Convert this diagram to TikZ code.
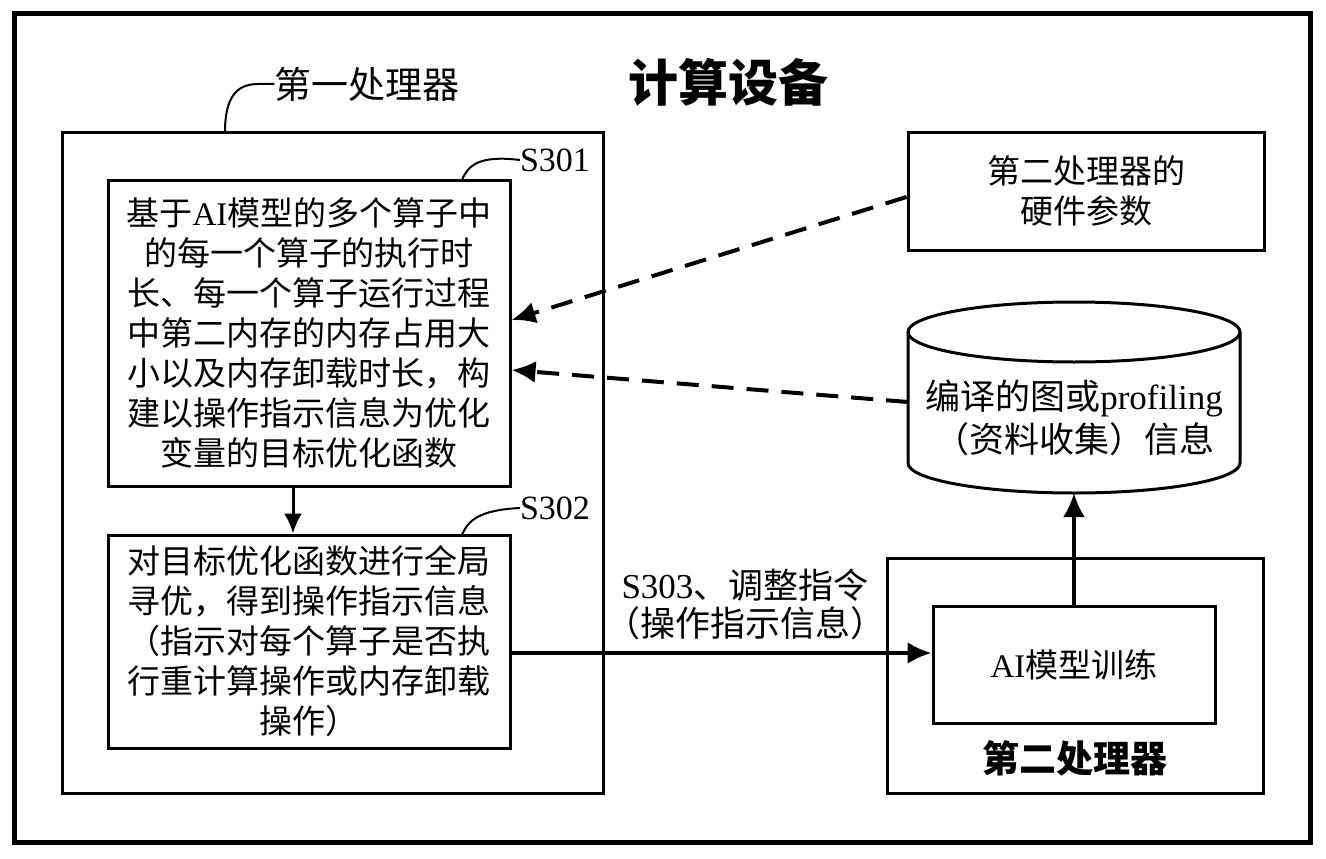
\documentclass[tikz,border=0pt]{standalone}
\usepackage{fontspec}
\setmainfont{Liberation Serif}
\newfontfamily\cjk{Noto Sans CJK SC}
\usetikzlibrary{arrows.meta}

\begin{document}
\begin{tikzpicture}
	[x=1pt,y=-1pt,
	frame/.style={draw,line width=5pt},
	box/.style={draw,line width=3pt,inner sep=0pt,align=center,font=\cjk\fontsize{33}{40}\selectfont},
	tag/.style={inner sep=0pt,font=\fontsize{34}{40}\selectfont},
	hook/.style={line width=2pt},
	arrow/.style={-{Latex[length=24pt,width=22pt]},line width=4pt},
	dasharrow/.style={arrow,dash pattern=on 22pt off 13pt}]

	\useasboundingbox (0,0) rectangle (1326,859);
	\draw[frame] (14,14) rectangle (1310,842);

	\node[font=\cjk\bfseries\fontsize{50}{60}\selectfont] (title) at (728,82) {计算设备};

	% first processor
	\node[box,minimum width=541pt,minimum height=661pt] (proc1) at (332.5,462.5) {};
	\node[inner sep=0pt,font=\cjk\fontsize{37}{40}\selectfont] (proc1lbl) at (367,84) {第一处理器};
	\draw[hook] (225,132) .. controls (225,98) and (236,84) .. (258,84) -- (proc1lbl.west);

	\node[box,minimum width=402pt,minimum height=306pt] (s301) at (309,333)
		{基于\textrm{AI}模型的多个算子中\\的每一个算子的执行时\\长、每一个算子运行过程\\中第二内存的内存占用大\\小以及内存卸载时长，构\\建以操作指示信息为优化\\变量的目标优化函数};
	\node[tag] (s301lbl) at (555,160) {S301};
	\draw[hook] (462,180) .. controls (468,165) and (480,155) .. (s301lbl.west);

	\node[box,minimum width=402pt,minimum height=213pt] (s302) at (309,641.5)
		{对目标优化函数进行全局\\寻优，得到操作指示信息\\（指示对每个算子是否执\\行重计算操作或内存卸载\\操作）};
	\node[tag] (s302lbl) at (555,508) {S302};
	\draw[hook] (462,535) .. controls (468,520) and (480,510) .. (s302lbl.west);

	\coordinate (midx) at (293,0);
	\draw[-{Latex[length=20pt,width=18pt]},line width=3pt] (s301.south -| midx) -- (s302.north -| midx);

	% right side
	\node[box,minimum width=356pt,minimum height=118pt] (hw) at (1086,191) {第二处理器的\\硬件参数};

	\draw[line width=3pt] (908,332) -- (908,463) arc[start angle=180,end angle=360,x radius=166pt,y radius=30pt] -- (1240,332);
	\draw[line width=3pt] (1074,332) ellipse[x radius=166pt,y radius=30pt];
	\node[inner sep=0pt,align=center,font=\cjk\fontsize{35}{43}\selectfont] (db) at (1074,418)
		{编译的图或\textrm{profiling}\\（资料收集）信息};
	\coordinate (dbleft) at (908,402);
	\coordinate (dbbot) at (1074,493);

	\node[box,minimum width=376pt,minimum height=235pt] (proc2) at (1075,675.5) {};
	\node[box,minimum width=282pt,minimum height=117pt] (train) at (1074,664.5) {\textrm{AI}模型训练};
	\node[inner sep=0pt,font=\cjk\bfseries\fontsize{37}{40}\selectfont] (proc2lbl) at (1075,758) {第二处理器};

	\node[inner sep=0pt,align=center,font=\cjk\fontsize{35}{38}\selectfont] (cmd) at (745,604)
		{\textrm{S303}、调整指令\\（操作指示信息）};

	\draw[arrow] (s302.east |- 0,653) -- (train.west |- 0,653);
	\draw[arrow] (train.north) -- (dbbot);
	\draw[dasharrow] ([yshift=-6pt]hw.west) -- (s301.east |- 0,320);
	\draw[dasharrow] (dbleft) -- (s301.east |- 0,370);

\end{tikzpicture}
\end{document}
